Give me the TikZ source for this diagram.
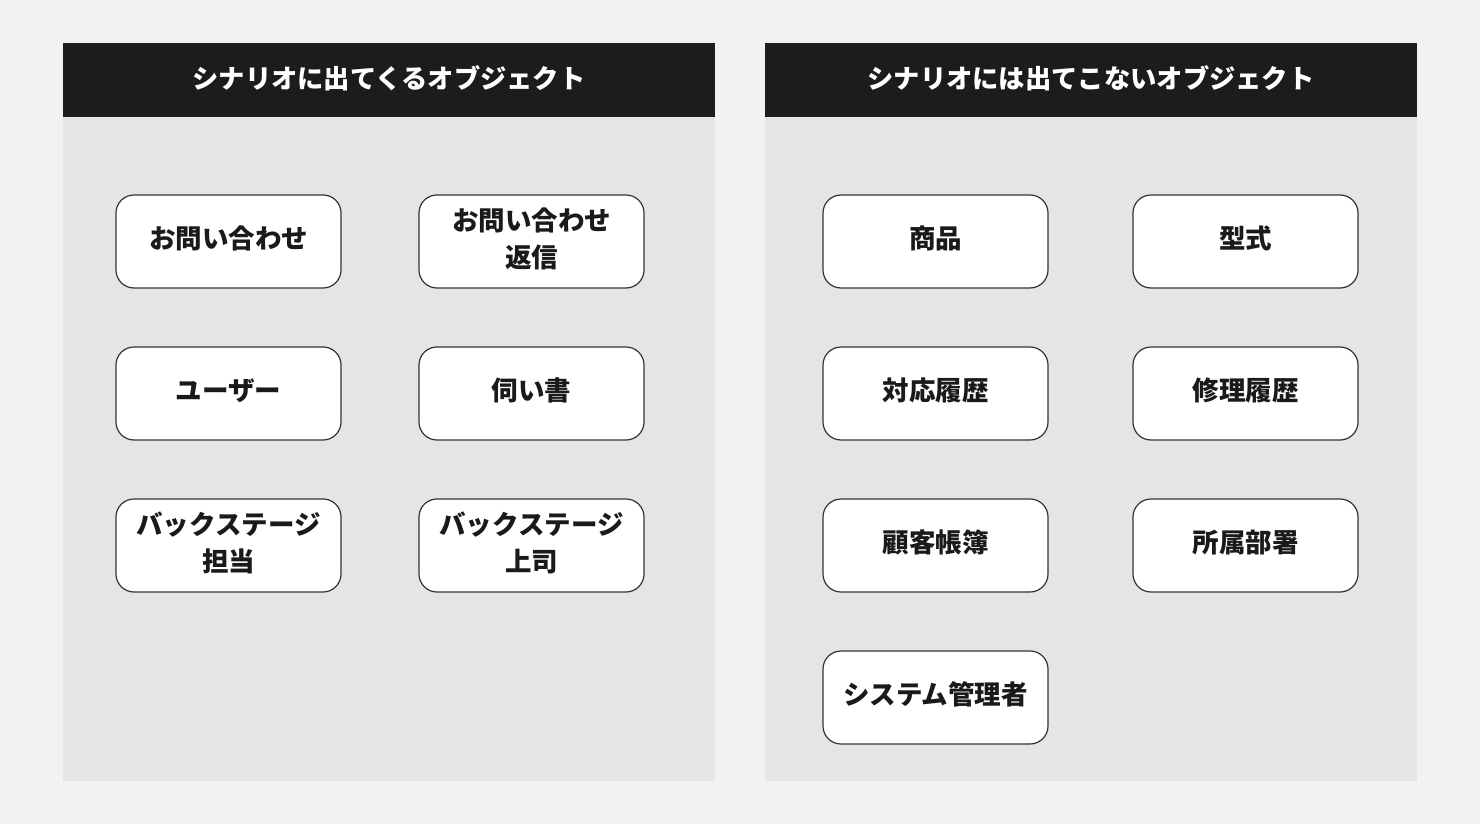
\documentclass[tikz,border=0pt]{standalone}
\usepackage{fontspec}
\setmainfont{Noto Sans CJK JP}
\newcommand\objnode[3]{\node[objbox] (#1) at (#2) {};
  \node[objtext] (#1t) at ([yshift=3pt]#1.center) {#3};}
\begin{document}
\begin{tikzpicture}[x=1pt,y=-1pt,
  headtext/.style={text=white,font=\fontsize{26.3}{30}\selectfont\bfseries},
  objbox/.style={draw=boxline,line width=1.2pt,fill=white,rounded corners=18pt,
     minimum width=225pt,minimum height=93pt,inner sep=0pt},
  objtext/.style={align=center,inner sep=0pt,
     font=\fontsize{26.5}{37}\selectfont\bfseries,text=textdark}]
\definecolor{bggray}{HTML}{F2F2F2}
\definecolor{panelgray}{HTML}{E5E5E5}
\definecolor{headblack}{HTML}{1C1C1C}
\definecolor{boxline}{HTML}{333333}
\definecolor{textdark}{HTML}{1A1A1A}
\fill[bggray] (0,0) rectangle (1480,824);
\useasboundingbox (0,0) rectangle (1480,824);
% left panel
\fill[panelgray] (63,117) rectangle (715,781);
\fill[headblack] (63,43) rectangle (715,117);
\node[headtext] (lh) at (389,78) {シナリオに出てくるオブジェクト};
% right panel
\fill[panelgray] (765,117) rectangle (1417,781);
\fill[headblack] (765,43) rectangle (1417,117);
\node[headtext] (rh) at (1091,78) {シナリオには出てこないオブジェクト};
% left boxes
\objnode{a1}{228.5,241.5}{お問い合わせ}
\objnode{a2}{531.5,241.5}{お問い合わせ\\返信}
\objnode{a3}{228.5,393.5}{ユーザー}
\objnode{a4}{531.5,393.5}{伺い書}
\objnode{a5}{228.5,545.5}{バックステージ\\担当}
\objnode{a6}{531.5,545.5}{バックステージ\\上司}
% right boxes
\objnode{b1}{935.5,241.5}{商品}
\objnode{b2}{1245.5,241.5}{型式}
\objnode{b3}{935.5,393.5}{対応履歴}
\objnode{b4}{1245.5,393.5}{修理履歴}
\objnode{b5}{935.5,545.5}{顧客帳簿}
\objnode{b6}{1245.5,545.5}{所属部署}
\objnode{b7}{935.5,697.5}{システム管理者}
\end{tikzpicture}
\end{document}
